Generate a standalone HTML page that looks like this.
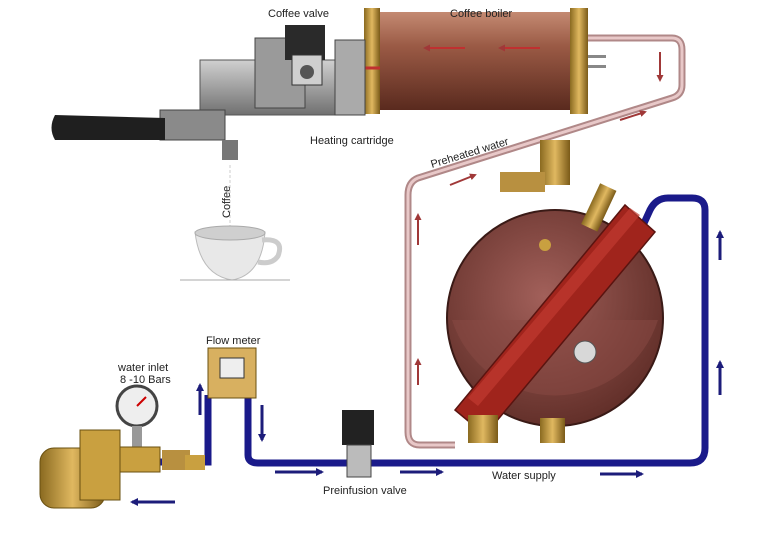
<!DOCTYPE html>
<html><head><meta charset="utf-8"><style>
html,body{margin:0;padding:0;background:#fff;}
svg{display:block;font-family:"Liberation Sans",sans-serif;}
</style></head><body>
<svg width="765" height="546" viewBox="0 0 765 546" xmlns="http://www.w3.org/2000/svg">
<defs>
<linearGradient id="cyl" x1="0" y1="0" x2="0" y2="1">
<stop offset="0" stop-color="#c48a72"/><stop offset="0.35" stop-color="#9a5a45"/><stop offset="1" stop-color="#5a2a1e"/></linearGradient>
<linearGradient id="gold" x1="0" y1="0" x2="1" y2="0">
<stop offset="0" stop-color="#8a6a20"/><stop offset="0.5" stop-color="#e0b860"/><stop offset="1" stop-color="#7a5a18"/></linearGradient>
<radialGradient id="ball" cx="0.45" cy="0.4" r="0.65">
<stop offset="0" stop-color="#a2605a"/><stop offset="1" stop-color="#5e2c26"/></radialGradient>
<linearGradient id="metal" x1="0" y1="0" x2="0" y2="1">
<stop offset="0" stop-color="#d0d0d0"/><stop offset="1" stop-color="#707070"/></linearGradient>
<marker id="bh" markerWidth="8" markerHeight="8" refX="6" refY="4" orient="auto" markerUnits="userSpaceOnUse">
<path d="M0,0 L8,4 L0,8 z" fill="#1c1c7a"/></marker>
<marker id="rh" markerWidth="7" markerHeight="7" refX="5" refY="3.5" orient="auto" markerUnits="userSpaceOnUse">
<path d="M0,0 L7,3.5 L0,7 z" fill="#a03838"/></marker>
</defs>

<path d="M588,38 L672,38 Q682,38 682,50 L682,85 Q682,95 672,98 L418,178 Q408,182 408,195 L408,432 Q408,445 420,445 L455,445" fill="none" stroke="#b08888" stroke-width="7"/>
<path d="M588,38 L672,38 Q682,38 682,50 L682,85 Q682,95 672,98 L418,178 Q408,182 408,195 L408,432 Q408,445 420,445 L455,445" fill="none" stroke="#e8c8c8" stroke-width="3"/>

<path d="M160,462 L208,462 L208,395 M248,395 L248,455 Q248,463 258,463 L690,463 Q705,463 705,448 L705,210 Q705,198 692,198 L668,198 Q656,198 650,210 L640,232" fill="none" stroke="#1a1a8a" stroke-width="7"/>

<circle cx="555" cy="318" r="108" fill="url(#ball)" stroke="#3a1a16" stroke-width="2"/>
<path d="M452,320 A108,108 0 0 0 658,320" fill="#8a4a44" opacity="0.5"/>
<polygon points="455,410 485,435 655,232 625,205" fill="#a0241c" stroke="#5a1410" stroke-width="1.5"/>
<polygon points="468,398 478,406 640,215 630,208" fill="#c03a30" opacity="0.7"/>
<circle cx="585" cy="352" r="11" fill="#d8d8d8" stroke="#555"/>
<circle cx="545" cy="245" r="6" fill="#c9a040"/>
<rect x="540" y="140" width="30" height="45" fill="url(#gold)"/>
<rect x="500" y="172" width="45" height="20" fill="#b89040"/>
<rect x="590" y="185" width="18" height="45" fill="url(#gold)" transform="rotate(25 599 207)"/>
<rect x="468" y="415" width="30" height="28" fill="url(#gold)"/>
<rect x="540" y="418" width="25" height="25" fill="url(#gold)"/>

<rect x="368" y="12" width="214" height="98" fill="url(#cyl)"/>
<rect x="364" y="8" width="16" height="106" fill="url(#gold)"/>
<rect x="570" y="8" width="18" height="106" fill="url(#gold)"/>
<rect x="588" y="55" width="18" height="3" fill="#888"/><rect x="588" y="65" width="18" height="3" fill="#888"/>
<line x1="465" y1="48" x2="425" y2="48" stroke="#c03030" stroke-width="2" marker-end="url(#rh)"/>
<line x1="540" y1="48" x2="500" y2="48" stroke="#c03030" stroke-width="2" marker-end="url(#rh)"/>
<line x1="380" y1="68" x2="330" y2="68" stroke="#c03030" stroke-width="3" marker-end="url(#rh)"/>

<rect x="200" y="60" width="150" height="55" fill="url(#metal)" stroke="#555"/>
<rect x="255" y="38" width="50" height="70" fill="#9a9a9a" stroke="#444"/>
<rect x="285" y="25" width="40" height="35" fill="#2a2a2a"/>
<rect x="292" y="55" width="30" height="30" fill="#cfcfcf" stroke="#333"/>
<circle cx="307" cy="72" r="7" fill="#555"/>
<rect x="335" y="40" width="30" height="75" fill="#aaa" stroke="#444"/>
<rect x="160" y="110" width="65" height="30" fill="#8a8a8a" stroke="#444"/>
<path d="M55,115 L165,118 L165,140 L55,140 Q48,128 55,115z" fill="#1f1f1f"/>
<rect x="222" y="140" width="16" height="20" fill="#777"/>
<line x1="230" y1="165" x2="230" y2="230" stroke="#ddd" stroke-width="1.5" stroke-dasharray="3,2"/>

<path d="M195,232 L265,232 Q262,275 232,280 Q200,275 195,232z" fill="#e8e8e8" stroke="#bbb"/>
<ellipse cx="230" cy="233" rx="35" ry="7" fill="#cfcfcf" stroke="#aaa"/>
<path d="M262,240 Q285,238 278,256 Q272,265 258,262" fill="none" stroke="#ccc" stroke-width="5"/>
<line x1="180" y1="280" x2="290" y2="280" stroke="#aaa"/>

<rect x="40" y="448" width="65" height="60" rx="14" fill="url(#gold)" stroke="#6a5010"/>
<rect x="80" y="430" width="40" height="70" fill="#c9a040" stroke="#6a5010"/>
<circle cx="137" cy="406" r="20" fill="#eee" stroke="#444" stroke-width="3"/>
<line x1="137" y1="406" x2="146" y2="397" stroke="#c00" stroke-width="2"/>
<rect x="132" y="426" width="10" height="22" fill="#999"/>
<rect x="120" y="447" width="40" height="25" fill="#c9a040" stroke="#6a5010"/>
<rect x="162" y="450" width="28" height="20" fill="#b89040"/>
<rect x="185" y="455" width="20" height="15" fill="#c9a040"/>

<rect x="208" y="348" width="48" height="50" fill="#d8b060" stroke="#6a5010"/>
<rect x="220" y="358" width="24" height="20" fill="#eee" stroke="#333"/>

<rect x="342" y="410" width="32" height="35" fill="#222"/>
<rect x="347" y="445" width="24" height="32" fill="#bbb" stroke="#444"/>

<line x1="175" y1="502" x2="132" y2="502" stroke="#1c1c7a" stroke-width="3" marker-end="url(#bh)"/>
<line x1="275" y1="472" x2="322" y2="472" stroke="#1c1c7a" stroke-width="3" marker-end="url(#bh)"/>
<line x1="400" y1="472" x2="442" y2="472" stroke="#1c1c7a" stroke-width="3" marker-end="url(#bh)"/>
<line x1="600" y1="474" x2="642" y2="474" stroke="#1c1c7a" stroke-width="3" marker-end="url(#bh)"/>
<line x1="720" y1="260" x2="720" y2="232" stroke="#1c1c7a" stroke-width="3" marker-end="url(#bh)"/>
<line x1="720" y1="395" x2="720" y2="362" stroke="#1c1c7a" stroke-width="3" marker-end="url(#bh)"/>
<line x1="200" y1="415" x2="200" y2="385" stroke="#1c1c7a" stroke-width="3" marker-end="url(#bh)"/>
<line x1="262" y1="405" x2="262" y2="440" stroke="#1c1c7a" stroke-width="3" marker-end="url(#bh)"/>
<line x1="418" y1="245" x2="418" y2="215" stroke="#a03838" stroke-width="2" marker-end="url(#rh)"/>
<line x1="418" y1="385" x2="418" y2="360" stroke="#a03838" stroke-width="2" marker-end="url(#rh)"/>
<line x1="450" y1="185" x2="475" y2="175" stroke="#a03838" stroke-width="2" marker-end="url(#rh)"/>
<line x1="620" y1="120" x2="645" y2="112" stroke="#a03838" stroke-width="2" marker-end="url(#rh)"/>
<line x1="660" y1="52" x2="660" y2="80" stroke="#a03838" stroke-width="2" marker-end="url(#rh)"/>

<g font-size="11" fill="#222">
<text x="268" y="17">Coffee valve</text>
<text x="450" y="17">Coffee boiler</text>
<text x="310" y="144">Heating cartridge</text>
<text x="432" y="168" transform="rotate(-17 432 168)">Preheated water</text>
<text x="230" y="218" transform="rotate(-90 230 218)">Coffee</text>
<text x="118" y="371">water inlet</text>
<text x="120" y="383">8 -10 Bars</text>
<text x="206" y="344">Flow meter</text>
<text x="323" y="494">Preinfusion valve</text>
<text x="492" y="479">Water supply</text>
</g>
</svg>
</body></html>
